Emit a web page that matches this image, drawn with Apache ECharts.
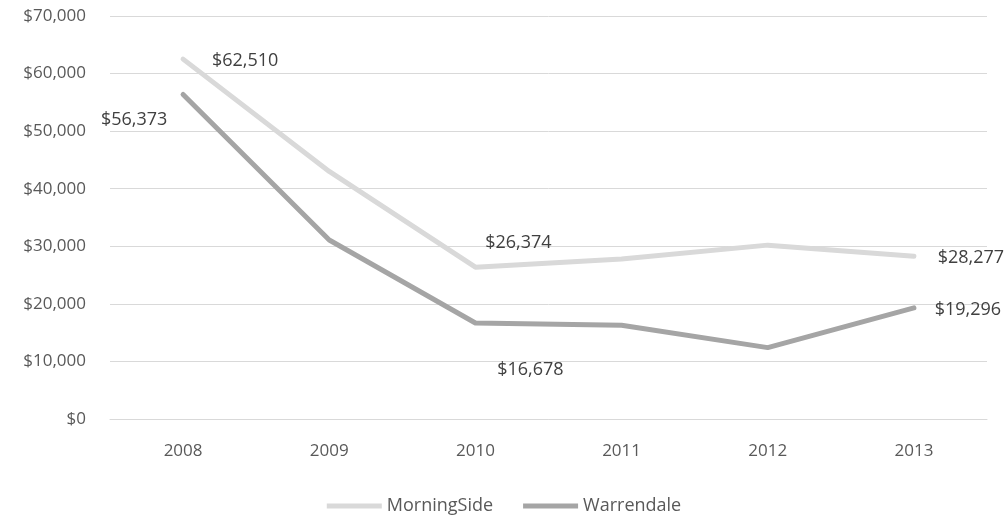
<!DOCTYPE html>
<html>
<head>
<meta charset="utf-8">
<script src="https://cdn.jsdelivr.net/npm/echarts@6/dist/echarts.min.js"></script>
<style>
  html, body { margin: 0; padding: 0; background: #fff; }
  #chart { width: 1008px; height: 516px; }
</style>
</head>
<body>
<div id="chart"></div>
<script>
const years = ['2008', '2009', '2010', '2011', '2012', '2013']
const morningSide = [62510, 43000, 26374, 27800, 30200, 28277]
const warrendale = [56373, 31100, 16678, 16300, 12400, 19296]
const yTicks = { min: 0, max: 70000, interval: 10000 }

const FONT = '"Open Sans", sans-serif'
const fmt = v => '$' + v.toLocaleString('en-US')

// which points get a value label, and where (offset from the point)
const morningLabels = { 0: [62, 2], 2: [43, -24], 5: [57, 2] }
const warrenLabels = { 0: [-49, 25], 2: [55, 47], 5: [54, 2] }

const toData = (values, labels) => values.map((v, i) => {
  const off = labels[i]
  return {
    value: v,
    label: off
      ? { show: true, position: 'inside', offset: off, formatter: p => fmt(p.value),
          color: '#404040', fontSize: 18, fontFamily: FONT }
      : { show: false }
  }
})

const chart = echarts.init(document.getElementById('chart'))

const option = {
  animation: false,
  grid: { left: 110, right: 21, top: 16, bottom: 97 },
  legend: {
    top: 492,
    left: 'center',
    icon: 'rect',
    itemWidth: 55,
    itemHeight: 5,
    itemGap: 30,
    textStyle: { color: '#595959', fontSize: 18, fontFamily: FONT },
    data: ['MorningSide', 'Warrendale']
  },
  xAxis: {
    type: 'category',
    data: years,
    axisLine: { lineStyle: { color: '#d9d9d9', width: 1 } },
    axisTick: { show: false },
    axisLabel: { color: '#595959', fontSize: 17, fontFamily: FONT, margin: 24 }
  },
  yAxis: {
    type: 'value',
    min: yTicks.min,
    max: yTicks.max,
    interval: yTicks.interval,
    axisLine: { show: false },
    axisTick: { show: false },
    splitLine: { lineStyle: { color: '#d9d9d9', width: 1 } },
    axisLabel: { color: '#595959', fontSize: 17, fontFamily: FONT, margin: 24, formatter: fmt }
  },
  series: [
    {
      name: 'MorningSide',
      type: 'line',
      data: toData(morningSide, morningLabels),
      symbol: 'circle',
      symbolSize: 2,
      itemStyle: { color: '#d9d9d9' },
      lineStyle: { color: '#d9d9d9', width: 5, cap: 'round', join: 'round' }
    },
    {
      name: 'Warrendale',
      type: 'line',
      data: toData(warrendale, warrenLabels),
      symbol: 'circle',
      symbolSize: 2,
      itemStyle: { color: '#a5a5a5' },
      lineStyle: { color: '#a5a5a5', width: 5, cap: 'round', join: 'round' }
    }
  ]
}

chart.setOption(option)
</script>
</body>
</html>
